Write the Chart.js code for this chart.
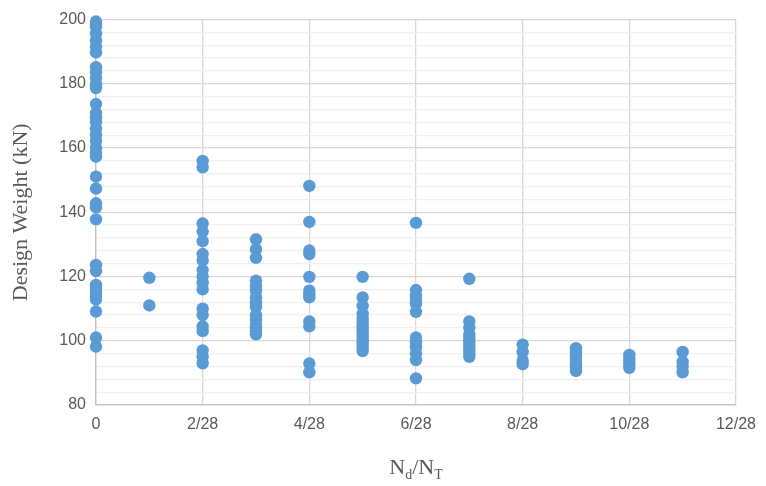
<!DOCTYPE html>
<html>
<head>
<meta charset="utf-8">
<script src="https://cdn.jsdelivr.net/npm/chart.js@4"></script>
<style>
  body { margin: 0; background: #ffffff; }
</style>
</head>
<body>
<canvas id="grafico" width="766" height="486"></canvas>
<script>
// x positions are counted in 28ths (N_d out of N_T = 28)
const ratio_steps = [0, 1, 2, 3, 4, 5, 6, 7, 8, 9, 10, 11];

// design weight (kN) for each ratio step
const weights_by_step = [
    [199.4, 198.5, 197.8, 195.7, 193.5, 191.6, 189.8, 185.2, 183.6, 181.8, 179.9, 178.7,
     173.7, 170.9, 169.4, 168.1, 166, 164.1, 162.3, 160.1, 158.6, 157.3, 151.1, 147.4,
     142.8, 141.5, 137.8, 123.6, 121.7, 117.4, 116.2, 114.9, 113.7, 112.8, 109.1, 101, 98.2],
    [119.6, 111],
    [156, 154, 136.5, 134, 131, 127, 125, 122, 120, 118, 116, 110, 108, 104.5, 103, 97, 95, 93],
    [131.6, 128.5, 125.8, 118.7, 117, 115.5, 113.5, 112, 110.5, 108, 106.5, 105, 104, 103, 102],
    [148.2, 137, 128.1, 127, 119.9, 115.6, 114.5, 113.5, 106, 104.5, 92.9, 90.2],
    [119.9, 113.5, 110.9, 108.4, 107, 106, 105, 104, 103, 102, 101, 100, 99, 98, 96.8],
    [136.7, 115.8, 114, 112.5, 111.5, 109, 101, 99.5, 98, 96, 94, 88.3],
    [119.3, 106, 104, 102, 101, 100, 99, 98, 97, 96, 95],
    [98.8, 96.5, 93.8, 92.7],
    [97.7, 96.5, 95.5, 94.5, 93.5, 92.5, 91.5, 90.6],
    [95.6, 94.5, 93.5, 92.5, 91.6],
    [96.5, 93.4, 92, 90.2]
];

const x_tick_labels = ['0', '2/28', '4/28', '6/28', '8/28', '10/28', '12/28'];

let points = [];
ratio_steps.forEach((step, i) => {
    weights_by_step[i].forEach((w) => {
        points.push({x: step, y: w});
    });
});

const text_color = '#595959';

// x title with subscripts: N_d / N_T
const xTitlePlugin = {
    id: 'xTitle',
    afterDraw(chart) {
        const c = chart.ctx;
        const area = chart.chartArea;
        const parts = [
            {t: 'N', sub: false},
            {t: 'd', sub: true},
            {t: '/N', sub: false},
            {t: 'T', sub: true}
        ];
        const big = '22px "Liberation Serif", "Times New Roman", serif';
        const small = '14px "Liberation Serif", "Times New Roman", serif';
        c.save();
        c.fillStyle = text_color;
        c.textBaseline = 'alphabetic';
        let total = 0;
        parts.forEach((p) => {
            c.font = p.sub ? small : big;
            p.w = c.measureText(p.t).width;
            total += p.w;
        });
        let x = (area.left + area.right) / 2 - total / 2;
        const base = 474;
        parts.forEach((p) => {
            c.font = p.sub ? small : big;
            c.fillText(p.t, x, p.sub ? base + 5 : base);
            x += p.w;
        });
        c.restore();
    }
};

let ctx = document.getElementById('grafico');

new Chart(ctx.getContext('2d'), {
    type: 'scatter',
    data: {
        datasets: [{
            label: 'Design Weight',
            data: points,
            backgroundColor: '#5b9bd5',
            borderColor: '#5b9bd5',
            borderWidth: 0,
            pointRadius: 6.2,
            pointHoverRadius: 6.2,
            clip: false
        }]
    },
    options: {
        responsive: false,
        animation: false,
        devicePixelRatio: 1,
        layout: {
            padding: {top: 16, right: 29, bottom: 0, left: 0}
        },
        scales: {
            x: {
                type: 'linear',
                min: 0,
                max: 12,
                afterFit: (scale) => { scale.height = 81; },
                ticks: {
                    stepSize: 2,
                    autoSkip: false,
                    maxRotation: 0,
                    color: text_color,
                    padding: 10,
                    font: {family: '"Liberation Sans", Arial, sans-serif', size: 16},
                    callback: (v) => x_tick_labels[v / 2]
                },
                grid: {
                    color: '#d9d9d9',
                    lineWidth: 1.3,
                    drawTicks: false
                },
                border: {color: '#bfbfbf', width: 1.3}
            },
            y: {
                min: 80,
                max: 200,
                afterFit: (scale) => { scale.width = 96; },
                ticks: {
                    stepSize: 4,
                    autoSkip: false,
                    color: text_color,
                    padding: 10,
                    font: {family: '"Liberation Sans", Arial, sans-serif', size: 16},
                    callback: (v) => (v % 20 === 0 ? String(v) : '')
                },
                grid: {
                    color: (c) => (c.tick && c.tick.value % 20 === 0 ? '#d9d9d9' : '#f0f0f0'),
                    lineWidth: 1.3,
                    drawTicks: false
                },
                border: {color: '#bfbfbf', width: 1.3},
                title: {
                    display: true,
                    text: 'Design Weight (kN)',
                    color: text_color,
                    padding: {top: 8, bottom: 0},
                    font: {family: '"Liberation Serif", "Times New Roman", serif', size: 22}
                }
            }
        },
        plugins: {
            legend: {display: false},
            title: {display: false},
            tooltip: {enabled: false}
        }
    },
    plugins: [xTitlePlugin]
});
</script>
</body>
</html>
